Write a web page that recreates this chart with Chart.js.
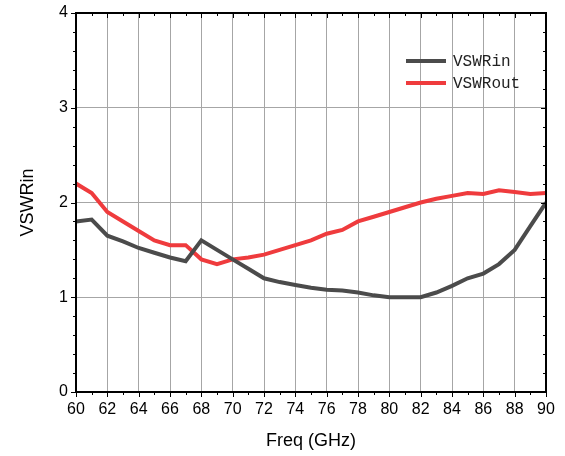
<!DOCTYPE html>
<html>
<head>
<meta charset="utf-8">
<script src="https://cdn.jsdelivr.net/npm/chart.js@4"></script>
<style>
  html, body { margin: 0; padding: 0; background: #fff; }
  #wrap { width: 565px; height: 456px; }
</style>
</head>
<body>
<div id="wrap"><canvas id="vswrChart" width="565" height="456"></canvas></div>
<script>
const freqs = [60, 61, 62, 63, 64, 65, 66, 67, 68, 69, 70, 71, 72, 73, 74, 75,
  76, 77, 78, 79, 80, 81, 82, 83, 84, 85, 86, 87, 88, 89, 90];

const vswrIn = [1.8, 1.82, 1.65, 1.59, 1.52, 1.47, 1.42, 1.38, 1.6, 1.5, 1.4, 1.3,
  1.2, 1.16, 1.13, 1.1, 1.08, 1.07, 1.05, 1.02, 1.0, 1.0, 1.0, 1.05, 1.12, 1.2,
  1.25, 1.35, 1.5, 1.75, 2.0];

const vswrOut = [2.2, 2.1, 1.9, 1.8, 1.7, 1.6, 1.55, 1.55, 1.4, 1.35, 1.4, 1.42,
  1.45, 1.5, 1.55, 1.6, 1.67, 1.71, 1.8, 1.85, 1.9, 1.95, 2.0, 2.04, 2.07, 2.1,
  2.09, 2.13, 2.11, 2.09, 2.1];

const seriesNames = ['VSWRin', 'VSWRout'];
const seriesColors = ['#4b4b4b', '#ef3b3d'];

// --- box, minor ticks and legend drawn on top ---
const framePlugin = {
  id: 'frame',
  afterDraw(chart) {
    const { ctx, chartArea: a, scales } = chart;
    const xs = scales.x, ys = scales.y;
    ctx.save();
    ctx.strokeStyle = '#000';
    ctx.lineWidth = 1;

    // ticks on bottom (outward) and top (inward)
    for (let v = 60; v <= 90; v++) {
      const px = Math.round(xs.getPixelForValue(v)) + 0.5;
      const len = v % 2 === 0 ? 5 : 3;
      ctx.beginPath();
      ctx.moveTo(px, a.bottom); ctx.lineTo(px, a.bottom + len);
      ctx.moveTo(px, a.top); ctx.lineTo(px, a.top + len);
      ctx.stroke();
    }
    // ticks on left (outward) and right (inward)
    for (let i = 0; i <= 20; i++) {
      const v = i * 0.2;
      const py = Math.round(ys.getPixelForValue(v)) + 0.5;
      const len = i % 5 === 0 ? 5 : 3;
      ctx.beginPath();
      ctx.moveTo(a.left, py); ctx.lineTo(a.left - len, py);
      ctx.moveTo(a.right, py); ctx.lineTo(a.right - len, py);
      ctx.stroke();
    }

    ctx.lineWidth = 2;
    ctx.strokeRect(a.left, a.top, a.right - a.left, a.bottom - a.top);

    // legend
    ctx.font = '16px "Liberation Mono", "DejaVu Sans Mono", monospace';
    ctx.textBaseline = 'middle';
    chart.data.datasets.forEach((ds, i) => {
      const y = 61 + i * 22;
      ctx.strokeStyle = ds.borderColor;
      ctx.lineWidth = 4;
      ctx.beginPath();
      ctx.moveTo(406, y); ctx.lineTo(446, y);
      ctx.stroke();
      ctx.fillStyle = '#222';
      ctx.fillText(ds.label, 453, y + 1);
    });
    ctx.restore();
  }
};

const ctx = document.getElementById('vswrChart').getContext('2d');

new Chart(ctx, {
  type: 'line',
  data: {
    datasets: [
      {
        label: seriesNames[0],
        data: freqs.map((f, i) => ({ x: f, y: vswrIn[i] })),
        borderColor: seriesColors[0],
        borderWidth: 4,
        pointRadius: 0,
        tension: 0
      },
      {
        label: seriesNames[1],
        data: freqs.map((f, i) => ({ x: f, y: vswrOut[i] })),
        borderColor: seriesColors[1],
        borderWidth: 4,
        pointRadius: 0,
        tension: 0
      }
    ]
  },
  options: {
    responsive: false,
    animation: false,
    layout: { padding: { left: 0, right: 19, top: 13, bottom: 0 } },
    plugins: {
      legend: { display: false },
      tooltip: { enabled: false }
    },
    scales: {
      x: {
        type: 'linear',
        min: 60,
        max: 90,
        ticks: {
          stepSize: 2,
          color: '#000',
          padding: 8,
          font: { family: 'Liberation Sans, Arial, sans-serif', size: 16 }
        },
        grid: { color: '#a6a6a6', lineWidth: 1, drawTicks: false },
        border: { display: false },
        title: {
          display: true,
          text: 'Freq (GHz)',
          color: '#000',
          padding: { top: 4 },
          font: { family: 'Liberation Sans, Arial, sans-serif', size: 18 }
        },
        afterFit(scale) {
          scale.height = 64;
          scale.paddingLeft = 0;
          scale.paddingRight = 0;
        }
      },
      y: {
        min: 0,
        max: 4,
        ticks: {
          stepSize: 1,
          color: '#000',
          padding: 8,
          font: { family: 'Liberation Sans, Arial, sans-serif', size: 16 }
        },
        grid: { color: '#a6a6a6', lineWidth: 1, drawTicks: false },
        border: { display: false },
        title: {
          display: true,
          text: 'VSWRin',
          color: '#000',
          padding: { top: 17, bottom: 0 },
          font: { family: 'Liberation Sans, Arial, sans-serif', size: 18 }
        },
        afterFit(scale) {
          scale.width = 76;
          scale.paddingTop = 0;
          scale.paddingBottom = 0;
        }
      }
    }
  },
  plugins: [framePlugin]
});
</script>
</body>
</html>
